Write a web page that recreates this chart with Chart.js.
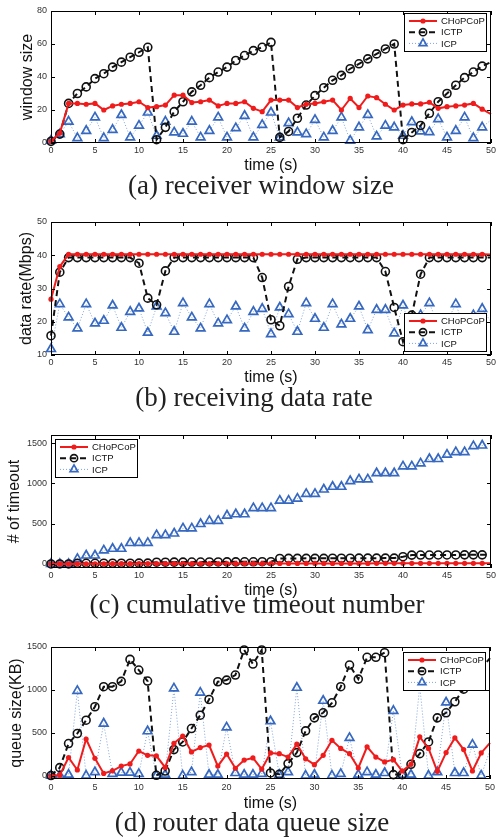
<!DOCTYPE html>
<html>
<head>
<meta charset="utf-8">
<script src="https://cdn.jsdelivr.net/npm/chart.js@4.4.1/dist/chart.umd.min.js"></script>
<style>
  body { margin: 0; background: #fff; width: 498px; height: 837px; position: relative; overflow: hidden; }
  canvas { position: absolute; left: 0; }
  .cap { position: absolute; font-family: 'Liberation Serif', 'Times New Roman', serif; font-size: 27px; line-height: 27px; color: #222; white-space: nowrap; transform: translateX(-50%); }
</style>
</head>
<body>
<canvas id="chartA" width="498" height="175" style="top:0px"></canvas>
<canvas id="chartB" width="498" height="182" style="top:205px"></canvas>
<canvas id="chartC" width="498" height="180" style="top:420px"></canvas>
<canvas id="chartD" width="498" height="181" style="top:632px"></canvas>
<div class="cap" style="left:261px; top:172px">(a) receiver window size</div>
<div class="cap" style="left:254px; top:384px">(b) receiving data rate</div>
<div class="cap" style="left:257px; top:591px">(c) cumulative timeout number</div>
<div class="cap" style="left:252px; top:809px">(d) router data queue size</div>
<script>
document.addEventListener('DOMContentLoaded', function() {

    //time axis (s)
    const time = [0,1,2,3,4,5,6,7,8,9,10,11,12,13,14,15,16,17,18,19,20,21,22,23,24,25,
                  26,27,28,29,30,31,32,33,34,35,36,37,38,39,40,41,42,43,44,45,46,47,48,49,50];
    const xTicks = [0,5,10,15,20,25,30,35,40,45,50];
    const seriesNames = ['CHoPCoP', 'ICTP', 'ICP'];

    //(a) receiver window size
    const winCHoPCoP = [1,6,24,24,23.5,24,20,22.5,23.5,24,25,21.5,22,23,29,29,24.5,25,26,22.5,24,24,25,21,19,26,
                        26,26,21.5,23.5,24,25,26,20,27,21.5,28.5,27.5,23.5,20,23,23.7,23.7,24.7,21,22,22.5,23,24,20.5,17.5];
    const winICTP = [1,5.4,24,30,34,39,42,46,49,52,55,58,2,9.5,19,25,31,35,39.6,43,46,50,53,56,58,61,
                     3.4,7,15,23,28.7,33.5,38,41,45,48,51,54,57,60,2,6.4,10.6,18,25,30,35,39.6,43,46.6,49];
    const winICP = [1.4,5.4,13,3,7.4,15.5,3,8,17,3.4,10.5,18.5,4.4,13,6.4,5.6,13,3.4,7.4,15.5,3.4,9,16.5,3.4,11,18.5,
                    3.4,12,6.4,5.4,14,3.4,7.4,15.5,1.4,9.5,17,4,10.5,9.5,4.4,12.7,7,6.6,14.5,3.4,7.4,15.5,3,9.5,14];
    const winTicks = [0,20,40,60,80];

    //(b) receiving data rate
    const rateCHoPCoP = [26.8,36.6,40.3,40.3,40.3,40.3,40.3,40.3,40.3,40.3,40.3,40.3,40.3,40.3,40.3,40.3,40.3,40.3,40.3,40.3,40.3,40.3,40.3,40.3,40.3,40.3,
                         40.3,40.3,40.3,40.3,40.3,40.3,40.3,40.3,40.3,40.3,40.3,40.3,40.3,40.3,40.3,40.3,40.3,40.3,40.3,40.3,40.3,40.3,40.3,40.3,40.2];
    const rateICTP = [15.8,34.9,39.3,39.3,39.3,39.3,39.3,39.3,39.3,39.3,37.6,27.1,25.1,35.3,39.3,39.3,39.3,39.3,39.3,39.3,39.3,39.3,39.3,39.3,33.3,20.6,
                      18.8,30.6,38.8,39.3,39.3,39.3,39.3,39.3,39.3,39.3,39.3,39.3,35.1,24.3,14,22,34.3,39.3,39.3,39.3,39.3,39.3,39.3,39.3,39.3];
    const rateICP = [11.8,25.3,21.3,18,25.3,19.5,20.3,24.9,18.2,23,24,16.7,24.6,22.6,17,25.6,21.3,18,25.3,19.5,20.5,24.6,18,23,23.9,16.3,
                     24.3,22.3,17,25.6,20.9,18.2,25.3,19.2,20.9,24.6,17.5,23.6,23.6,16.5,24.9,17,22,25.6,19,20,25.3,18,22,23.9,20];
    const rateTicks = [10,20,30,40,50];

    //(c) cumulative timeout number
    const toCHoPCoP = [0,0,0,2,3,3,3,4,4,4,4,5,5,5,5,5,5,6,6,6,6,6,6,6,6,6,
                       7,7,7,7,7,7,7,7,7,7,7,8,8,8,8,8,8,8,8,8,8,8,8,8,8];
    const toICTP = [0,0,0,8,8,8,9,9,9,9,10,10,22,22,23,23,24,24,25,25,26,26,27,27,28,28,
                    68,69,69,70,70,70,71,71,71,72,72,72,73,73,90,110,111,111,112,112,112,113,113,113,113];
    const toICP = [0,0,0,63,105,105,168,189,189,260,262,262,357,357,378,441,441,496,534,534,601,617,617,693,693,693,
                   786,786,811,870,870,924,958,958,1029,1050,1050,1126,1126,1126,1210,1210,1248,1302,1302,1357,1387,1387,1462,1470,1490];
    const toTicks = [0,500,1000,1500];

    //(d) router data queue size
    const qCHoPCoP = [0,10,215,70,430,205,30,60,115,140,290,240,235,100,380,465,280,330,360,115,255,90,185,210,80,268,
                      260,220,370,200,132,240,415,320,260,93,340,220,163,190,58,136,455,320,54,272,443,307,58,268,385];
    const qICTP = [5,97,377,494,649,805,1038,1038,1100,1356,1232,1104,8,58,307,396,552,707,890,1096,1115,1174,1465,1302,1465,35,
                   20,144,272,525,676,735,851,1038,1290,1127,1380,1380,1434,16,16,136,260,396,676,735,863,1010,1130,1250,1370];
    const qICP = [5,5,15,990,5,45,610,25,40,40,25,520,5,15,1018,5,45,970,15,15,565,35,15,15,25,637,
                  15,45,1026,5,15,875,5,25,443,15,45,15,35,758,15,15,1050,5,45,855,35,35,365,5,300];
    const qTicks = [0,500,1000,1500];


    const FONT = "'Liberation Sans', Arial, sans-serif";

    //the last sample sits on the right border, its marker is not drawn
    function hideLast(r) {
        return function(ctx) { return ctx.dataIndex === time.length - 1 ? 0 : r; };
    }

    function makeDatasets(red, black, blue) {
        return [
            { label: seriesNames[0], data: time.map((t, i) => ({ x: t, y: red[i] })),
              borderColor: '#f01c1c', backgroundColor: '#f01c1c', borderWidth: 2,
              pointStyle: 'circle', pointRadius: hideLast(2.6), pointBorderWidth: 0, clip: false },
            { label: seriesNames[1], data: time.map((t, i) => ({ x: t, y: black[i] })),
              borderColor: '#111', backgroundColor: 'rgba(0,0,0,0)', borderWidth: 2, borderDash: [6, 4],
              pointStyle: 'circle', pointRadius: hideLast(4), pointBorderWidth: 1.6, clip: false },
            { label: seriesNames[2], data: time.map((t, i) => ({ x: t, y: blue[i] })),
              borderColor: '#7fa4e0', backgroundColor: 'rgba(0,0,0,0)', borderWidth: 1, borderDash: [1, 2],
              pointStyle: 'triangle', pointRadius: hideLast(5), pointBorderWidth: 1.7,
              pointBorderColor: '#3768c0', pointBackgroundColor: 'rgba(0,0,0,0)', clip: false }
        ];
    }

    //axes box with inward ticks, like matlab
    const boxPlugin = {
        id: 'matlabBox',
        afterDatasetsDraw(chart) {
            const { ctx, chartArea: a, scales } = chart;
            const len = 4;
            ctx.save();
            ctx.strokeStyle = '#000';
            ctx.lineWidth = 1;
            ctx.setLineDash([]);
            ctx.strokeRect(Math.round(a.left) + 0.5, Math.round(a.top) + 0.5,
                           Math.round(a.right - a.left) - 1, Math.round(a.bottom - a.top) - 1);
            ctx.beginPath();
            scales.x.ticks.forEach(t => {
                const px = Math.round(scales.x.getPixelForValue(t.value)) + 0.5;
                ctx.moveTo(px, a.bottom); ctx.lineTo(px, a.bottom - len);
                ctx.moveTo(px, a.top); ctx.lineTo(px, a.top + len);
            });
            scales.y.ticks.forEach(t => {
                const py = Math.round(scales.y.getPixelForValue(t.value)) + 0.5;
                ctx.moveTo(a.left, py); ctx.lineTo(a.left + len, py);
                ctx.moveTo(a.right, py); ctx.lineTo(a.right - len, py);
            });
            ctx.stroke();
            ctx.restore();
        }
    };

    //legend box inside the axes
    const boxLegend = {
        id: 'boxLegend',
        afterDraw(chart, args, opts) {
            const { ctx, chartArea: a } = chart;
            const w = 82, h = 38;
            const left = opts.corner.indexOf('w') >= 0 ? a.left + opts.dx : a.right - opts.dx - w;
            const top = opts.corner.indexOf('n') >= 0 ? a.top + opts.dy : a.bottom - opts.dy - h;
            ctx.save();
            ctx.fillStyle = '#fff';
            ctx.fillRect(left, top, w, h);
            ctx.strokeStyle = '#000';
            ctx.lineWidth = 1;
            ctx.strokeRect(Math.round(left) + 0.5, Math.round(top) + 0.5, w, h);
            chart.data.datasets.forEach((ds, i) => {
                const y = top + 8 + i * 11.2;
                ctx.strokeStyle = ds.borderColor;
                ctx.lineWidth = ds.borderWidth;
                ctx.setLineDash(ds.borderDash || []);
                ctx.beginPath();
                ctx.moveTo(left + 5, y);
                ctx.lineTo(left + 33, y);
                ctx.stroke();
                ctx.setLineDash([]);
                ctx.strokeStyle = ds.pointBorderColor || ds.borderColor;
                ctx.fillStyle = ds.pointBackgroundColor || ds.backgroundColor;
                ctx.lineWidth = ds.pointBorderWidth || 0.01;
                const r = ds.pointStyle === 'triangle' ? 4.5 : (i === 0 ? 2.6 : 3.6);
                Chart.helpers.drawPoint(ctx, { pointStyle: ds.pointStyle, radius: r, borderWidth: ds.pointBorderWidth, rotation: 0 }, left + 19, y);
                ctx.fillStyle = '#111';
                ctx.font = '9.5px ' + FONT;
                ctx.textBaseline = 'middle';
                ctx.fillText(ds.label, left + 37, y + 0.5);
            });
            ctx.restore();
        }
    };

    function makeChart(id, datasets, o) {
        return new Chart(document.getElementById(id), {
            type: 'line',
            data: { datasets: datasets },
            plugins: [boxPlugin, boxLegend],
            options: {
                responsive: false,
                animation: false,
                devicePixelRatio: 1,
                layout: { padding: { top: o.padTop, right: 6, left: 0, bottom: 0 } },
                plugins: {
                    legend: { display: false },
                    tooltip: { enabled: false },
                    boxLegend: o.legend
                },
                scales: {
                    x: {
                        type: 'linear', min: 0, max: 50,
                        grid: { display: false, drawTicks: false }, border: { display: false },
                        afterBuildTicks: s => { s.ticks = xTicks.map(v => ({ value: v })); },
                        afterFit: s => { s.height = o.xHeight; },
                        ticks: { autoSkip: false, maxRotation: 0, padding: o.tickPad, color: '#333',
                                 font: { family: FONT, size: 9 }, callback: v => String(v) },
                        title: { display: true, text: 'time (s)', color: '#111', padding: 0, font: { family: FONT, size: 16 } }
                    },
                    y: {
                        type: 'linear', min: o.yMin, max: o.yMax,
                        grid: { display: false, drawTicks: false }, border: { display: false },
                        afterBuildTicks: s => { s.ticks = o.yTicks.map(v => ({ value: v })); },
                        afterFit: s => { s.width = 51; },
                        ticks: { padding: 4, color: '#333', font: { family: FONT, size: 9 }, callback: v => String(v) },
                        title: { display: true, text: o.yTitle, color: '#111', padding: { top: o.titlePad, bottom: 0 }, font: { family: FONT, size: 16 } }
                    }
                }
            }
        });
    }

    makeChart('chartA', makeDatasets(winCHoPCoP, winICTP, winICP), {
        padTop: 11, xHeight: 32, tickPad: 2, yMin: 0, yMax: 80, yTicks: winTicks,
        yTitle: 'window size', titlePad: 18, legend: { corner: 'ne', dx: 5, dy: 2 }
    });

    makeChart('chartB', makeDatasets(rateCHoPCoP, rateICTP, rateICP), {
        padTop: 17, xHeight: 32, tickPad: 2, yMin: 10, yMax: 50, yTicks: rateTicks,
        yTitle: 'data rate(Mbps)', titlePad: 17, legend: { corner: 'se', dx: 5, dy: 4 }
    });

    makeChart('chartC', makeDatasets(toCHoPCoP, toICTP, toICP), {
        padTop: 15, xHeight: 32, tickPad: 2, yMin: -50, yMax: 1600, yTicks: toTicks,
        yTitle: '# of timeout', titlePad: 5, legend: { corner: 'nw', dx: 4, dy: 4 }
    });

    makeChart('chartD', makeDatasets(qCHoPCoP, qICTP, qICP), {
        padTop: 15, xHeight: 34, tickPad: 3, yMin: -35, yMax: 1500, yTicks: qTicks,
        yTitle: 'queue size(KB)', titlePad: 7, legend: { corner: 'ne', dx: 5, dy: 5 }
    });
});
</script>
</body>
</html>
